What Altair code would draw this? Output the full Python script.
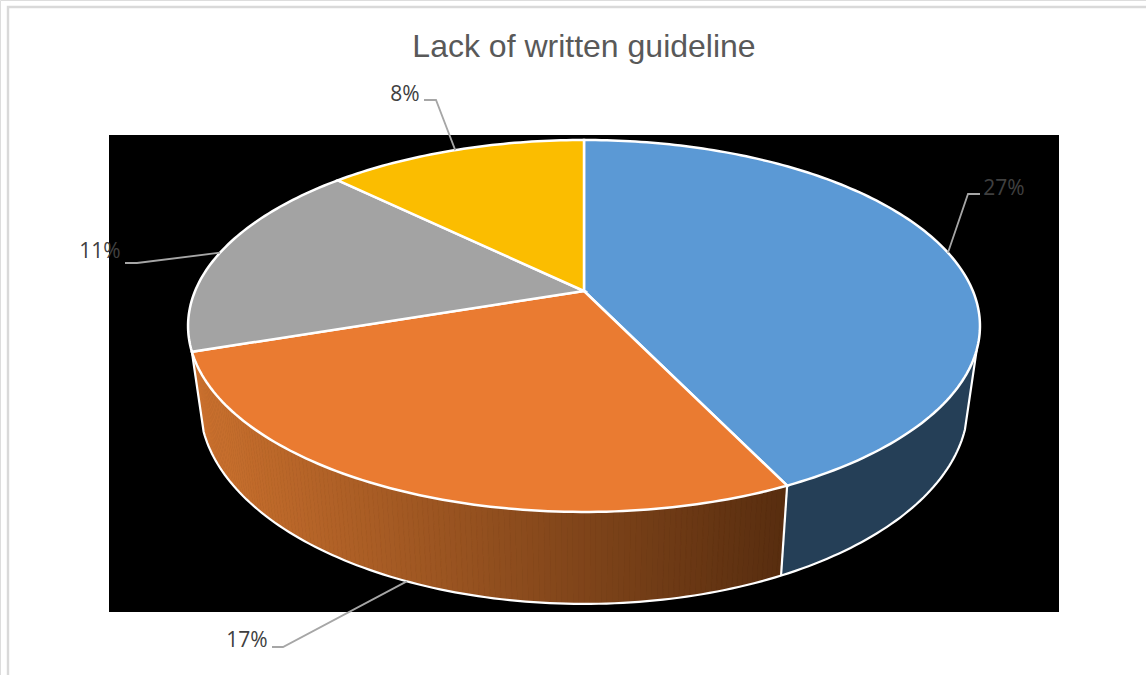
import math

import altair as alt
import pandas as pd

TITLE = "Lack of written guideline"
VALUES = [27, 17, 11, 8]
SLICE_COLORS = ["#5b99d5", "#ea7b31", "#a3a3a3", "#fbbd00"]

# Perspective model of the disc, in page pixels
CX, CY = 584, 291
AX, BY, K = 388.9, 179.4, 0.188
X_SHRINK, Y_STRETCH, DROP = 0.97, 1.075, 75.4
SIDE_START = 108.0

BLUE_SIDE = "#253f57"
ORANGE_LEFT = (203, 113, 46)
ORANGE_RIGHT = (88, 45, 15)

# Label anchors and leader elbows, per slice
LABEL_POS = [(1004, 189), (247, 641), (100, 252), (405, 95)]
LEADER_BENDS = [
    [(968, 194), (980, 194)],
    [(283, 647), (272, 647)],
    [(137, 263), (125, 263)],
    [(436, 100), (424, 100)],
]


def top_point(deg):
    """Point on the upper rim at a clockwise angle from twelve o'clock."""
    t = math.radians(deg)
    x, y = math.sin(t), math.cos(t)
    w = 1 + K * y
    return AX * x / w, BY * y / w


def page_top(deg):
    sx, sy = top_point(deg)
    return CX + sx, CY - sy


def page_bottom(deg):
    sx, sy = top_point(deg)
    return CX + sx * X_SHRINK, CY - (sy * Y_STRETCH - DROP)


def steps(a, b, n=None):
    n = n or max(2, int(abs(b - a)))
    return [a + (b - a) * i / n for i in range(n + 1)]


def polygon(points, fill):
    ring = [list(p) for p in points] + [list(points[0])]
    return {
        "type": "Feature",
        "properties": {"fill": fill},
        "geometry": {"type": "Polygon", "coordinates": [ring]},
    }


def polyline(points, stroke):
    return {
        "type": "Feature",
        "properties": {"stroke": stroke},
        "geometry": {"type": "LineString", "coordinates": [list(p) for p in points]},
    }


def mix(c0, c1, f):
    f = min(1, max(0, f))
    return "#%02x%02x%02x" % tuple(round(a + (b - a) * f) for a, b in zip(c0, c1))


# Slice boundaries follow directly from the values
total = sum(VALUES)
edges = [0.0]
for v in VALUES:
    edges.append(edges[-1] + v / total * 360)
mids = [(edges[i] + edges[i + 1]) / 2 for i in range(len(VALUES))]
side_end = edges[2]

# Side wall: flat blue section, then narrow orange quads shaded by horizontal position
blue_angles = steps(SIDE_START, edges[1])
side_features = [
    polygon(
        [page_top(d) for d in blue_angles] + [page_bottom(d) for d in reversed(blue_angles)],
        BLUE_SIDE,
    )
]
orange_angles = steps(edges[1], side_end, 140)
x_left, x_right = page_top(side_end)[0], page_top(edges[1])[0]
for a, b in zip(orange_angles, orange_angles[1:]):
    quad = [page_top(a), page_top(b), page_bottom(b), page_bottom(a)]
    f = (x_right - page_top((a + b) / 2)[0]) / (x_right - x_left)
    side_features.append(polygon(quad, mix(ORANGE_RIGHT, ORANGE_LEFT, f)))

# Side wall outline
wall_outline = (
    [page_top(SIDE_START)]
    + [page_bottom(d) for d in steps(SIDE_START, side_end)]
    + [page_top(side_end)]
)
divider = [page_top(edges[1]), page_bottom(edges[1])]

# Top face
top_features = []
for i, color in enumerate(SLICE_COLORS):
    rim = [page_top(d) for d in steps(edges[i], edges[i + 1])]
    top_features.append(polygon([(CX, CY)] + rim, color))

# Leaders start on the rim at each slice's middle angle; the front slice
# starts on the lower edge of the wall
leader_features = []
for i, bends in enumerate(LEADER_BENDS):
    start = page_bottom(mids[i]) if 90 < mids[i] < 270 and i > 0 else page_top(mids[i])
    leader_features.append(polyline([start] + bends, "#a6a6a6"))

panel = [polygon([(109, 135), (1059, 135), (1059, 612), (109, 612)], "#000000")]
frame = [polyline([(8, 675), (8, 7), (1146, 7)], "#d9d9d9")]

projection = alt.Projection(type="identity", scale=1, translate=[0, 0])


def filled(features, seamless=False, **mark):
    channels = {"fill": alt.Fill("properties.fill:N", scale=None)}
    if seamless:
        # Each quad is outlined in its own colour so that no seams show
        channels["stroke"] = alt.Stroke("properties.fill:N", scale=None)
    return (
        alt.Chart(alt.Data(values=features))
        .mark_geoshape(**mark)
        .encode(**channels)
        .project(**projection.to_dict())
    )


def stroked(features, **mark):
    return (
        alt.Chart(alt.Data(values=features))
        .mark_geoshape(filled=False, **mark)
        .encode(stroke=alt.Stroke("properties.stroke:N", scale=None))
        .project(**projection.to_dict())
    )


labels = pd.DataFrame(
    {
        "text": [f"{v}%" for v in VALUES],
        "px": [p[0] for p in LABEL_POS],
        "py": [p[1] for p in LABEL_POS],
    }
)

label_layer = (
    alt.Chart(labels)
    .mark_text(font="Open Sans", fontSize=21, color="#404040", baseline="middle")
    .encode(
        x=alt.X("px:Q", scale=alt.Scale(domain=[0, 1146], range=[0, 1146]), axis=None),
        y=alt.Y("py:Q", scale=alt.Scale(domain=[0, 675], range=[0, 675]), axis=None),
        text="text:N",
    )
)

title_layer = (
    alt.Chart(pd.DataFrame({"text": [TITLE]}))
    .mark_text(font="Liberation Sans", fontSize=32, color="#595959", baseline="middle")
    .encode(x=alt.value(584), y=alt.value(47), text="text:N")
)

chart = (
    alt.layer(
        filled(panel, strokeWidth=0),
        stroked(frame, strokeWidth=2.4),
        filled(side_features, seamless=True, strokeWidth=0.8),
        stroked([polyline(wall_outline, "#ffffff"), polyline(divider, "#ffffff")], strokeWidth=2.2),
        filled(top_features, stroke="#ffffff", strokeWidth=2.5),
        stroked(leader_features, strokeWidth=1.8),
        label_layer,
        title_layer,
    )
    .properties(width=1146, height=675, padding=0, autosize=alt.AutoSizeParams(type="none"))
    .configure_view(stroke=None)
    .configure(background="#ffffff")
)

chart.save("out.html", embed_options={"renderer": "svg", "actions": False})
